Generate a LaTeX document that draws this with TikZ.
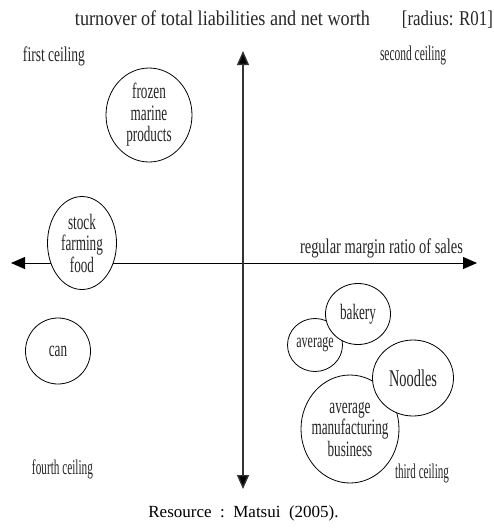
\documentclass[tikz,border=0pt]{standalone}
\usepackage{fontspec}
\usepackage{graphicx}
\setmainfont{Liberation Serif}
\newfontfamily\cond[FakeStretch=0.6]{Liberation Serif}
\usetikzlibrary{shapes.geometric,arrows.meta}
\newcommand\fitw[2]{\resizebox{#1}{\height}{#2}}
\begin{document}
\begin{tikzpicture}[x=1pt,y=-1pt,
  bub/.style={ellipse,draw,line width=0.8pt,fill=white,inner sep=0pt,outer sep=0pt},
  txt/.style={inner sep=0pt,align=center,text=black!85,font=\cond\fontsize{22}{21.5}\selectfont},
  lbl/.style={inner sep=0pt,anchor=base,text=black!85,font=\cond\fontsize{21}{22}\selectfont},
  tip/.style={-{Triangle[length=14pt,width=12pt,fill=black]}},
  haxis/.style={tip,line width=1pt,draw=black},
  vaxis/.style={tip,line width=1.4pt,draw=black!80}]
\useasboundingbox (0,0) rectangle (494,528);
% axes
\coordinate (O) at (243,263);
\coordinate (T) at (243,51);
\coordinate (B) at (243,489);
\coordinate (L) at (11,263);
\coordinate (R) at (477,263);
\draw[haxis] (O) -- (R);
\draw[haxis] (O) -- (L);
\draw[vaxis] (O) -- (T);
\draw[vaxis] (O) -- (B);
% bubbles
\node[bub,minimum width=86pt,minimum height=94pt,
  label={[txt]center:{frozen\\marine\\products}}] (frozen) at (149,115) {};
\node[bub,minimum width=69pt,minimum height=93pt,
  label={[txt]center:{stock\\farming\\food}}] (stock) at (82,243) {};
\node[bub,minimum width=65pt,minimum height=66pt,
  label={[txt]center:{can}}] (can) at (58,351) {};
\node[bub,minimum width=55pt,minimum height=53pt,
  label={[txt,font=\cond\fontsize{20}{20}\selectfont]center:{average}}] (avg) at (315,345) {};
\node[bub,minimum width=65pt,minimum height=61pt,
  label={[txt]center:{bakery}}] (bakery) at (358,314) {};
\node[bub,minimum width=98pt,minimum height=108pt,
  label={[txt]center:{average\\manufacturing\\business}}] (amb) at (350,429) {};
\node[bub,minimum width=81pt,minimum height=76pt,
  label={[txt,font=\cond\fontsize{24}{22}\selectfont]center:{Noodles}}] (noodles) at (413,378) {};
% labels
\node[lbl] (title) at (222.5,25) {\fitw{295pt}{turnover of total liabilities and net worth}};
\node[lbl] (radius) at (447.5,25) {\fitw{91pt}{[radius: R01]}};
\node[lbl] (q1) at (54,61) {\fitw{62pt}{first ceiling}};
\node[lbl] (q2) at (413,60) {\fitw{66pt}{second ceiling}};
\node[lbl] (xlab) at (381.5,253) {\fitw{163pt}{regular margin ratio of sales}};
\node[lbl] (q4) at (62.5,474) {\fitw{61pt}{fourth ceiling}};
\node[lbl] (q3) at (422,478) {\fitw{54pt}{third ceiling}};
\node[inner sep=0pt,anchor=base,font=\fontsize{17}{20}\selectfont] (src) at (243.5,517) {Resource\ \ :\ \ Matsui\ \ (2005).};
\end{tikzpicture}
\end{document}
